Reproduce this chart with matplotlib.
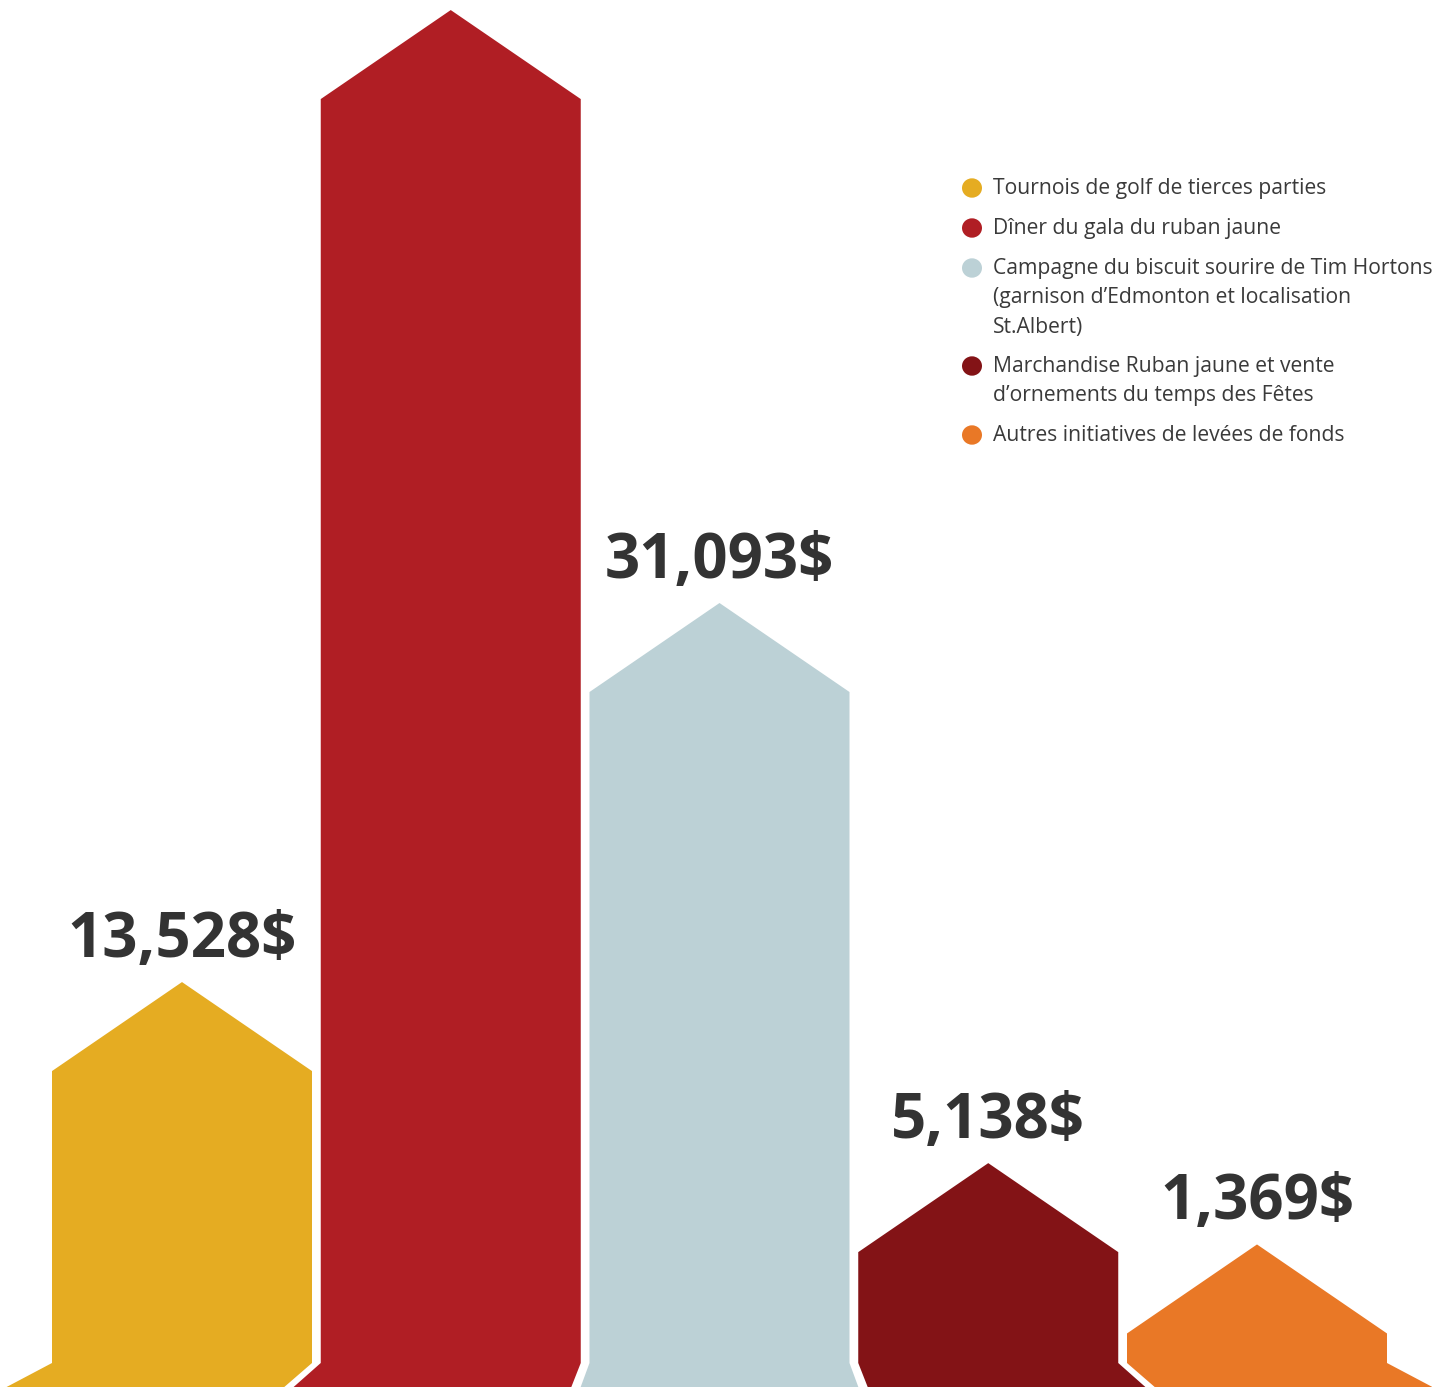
import matplotlib
matplotlib.use("Agg")
from matplotlib import pyplot as plt
from matplotlib.patches import Polygon

# data
categories = [
    "Tournois de golf de tierces parties",
    "Dîner du gala du ruban jaune",
    "Campagne du biscuit sourire de Tim Hortons\n(garnison d\u2019Edmonton et localisation\nSt.Albert)",
    "Marchandise Ruban jaune et vente\nd\u2019ornements du temps des Fêtes",
    "Autres initiatives de levées de fonds",
]
values = [13528, 58570, 31093, 5138, 1369]
value_labels = ["13,528$", "", "31,093$", "5,138$", "1,369$"]
colors = ["#E5AC22", "#B01E24", "#BCD1D6", "#831316", "#E97826"]

W, H = 1432, 1387
plt.rcParams['font.family'] = ['Open Sans', 'DejaVu Sans']

fig = plt.figure(figsize=(W / 100, H / 100), dpi=100)
ax = fig.add_axes([0, 0, 1, 1])
ax.axis('off')

px_x = 268.75      # pixels per category step
px_v = 0.02158     # pixels per dollar
ax.set_xlim(-182 / px_x, (W - 182) / px_x)
ax.set_ylim(-(H - 1274) / px_v, 1274 / px_v)
ymin = ax.get_ylim()[0]

width = 260 / px_x
roof = 89 / px_v
flare_top = -89 / px_v
k = 0.068  # base spreads out from the middle bar

for i, v in enumerate(values):
    l, r = i - width / 2, i + width / 2
    pts = [
        (l + k * (l - 2), ymin),
        (l, flare_top),
        (l, v - roof),
        (i, v),
        (r, v - roof),
        (r, flare_top),
        (r + k * (r - 2), ymin),
    ]
    ax.add_patch(Polygon(pts, closed=True, facecolor=colors[i], edgecolor='none'))
    if value_labels[i]:
        ax.annotate(value_labels[i], (i, v), xytext=(0, 18), textcoords='offset points',
                    ha='center', va='baseline', fontsize=44.5, fontweight='bold',
                    color='#333333')

# legend
leg_y = [188, 228, 268, 366, 435]
for i, cat in enumerate(categories):
    fig.patches.append(plt.Circle((972 / W, 1 - leg_y[i] / H), 10 / W,
                                  transform=fig.transFigure, facecolor=colors[i],
                                  edgecolor='none'))
    fig.text(993 / W, 1 - (leg_y[i] - 10) / H, cat, ha='left', va='top', fontsize=15.2,
             color='#3a3a3a', linespacing=1.53,
             transform=fig.transFigure)

fig.savefig("out.png", dpi=100)
